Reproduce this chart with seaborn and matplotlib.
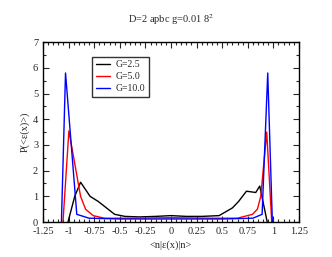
import pandas as pd
import numpy as np
import matplotlib
matplotlib.use('Agg')
import matplotlib.pyplot as plt
import seaborn as sns
from matplotlib.ticker import MultipleLocator, FuncFormatter

sns.set_style('ticks')
plt.rcParams['font.family'] = ['Liberation Serif', 'DejaVu Serif']
plt.rcParams['mathtext.fontset'] = 'stix'

# G=2.5
x_g25 = [-1.006, -0.94, -0.883, -0.79, -0.71, -0.63, -0.55, -0.45, -0.31, -0.15, 0.0, 0.15, 0.3, 0.47,
         0.6, 0.66, 0.737, 0.828, 0.867, 0.94]
y_g25 = [0.0, 1.0, 1.55, 1.0, 0.8, 0.55, 0.3, 0.22, 0.2, 0.22, 0.25, 0.22, 0.22, 0.25,
         0.55, 0.8, 1.2, 1.15, 1.4, 0.0]
# G=5.0
x_g50 = [-1.055, -0.997, -0.883, -0.834, -0.76, -0.65, -0.4, 0.0, 0.4, 0.65, 0.795, 0.844, 0.877, 0.935, 0.984]
y_g50 = [0.0, 3.55, 1.0, 0.5, 0.25, 0.15, 0.15, 0.17, 0.15, 0.15, 0.3, 0.5, 1.0, 3.5, 0.0]
# G=10.0
x_g10 = [-1.07, -1.03, -0.92, -0.8, -0.5, 0.0, 0.5, 0.8, 0.89, 0.945, 0.99]
y_g10 = [0.0, 5.8, 0.3, 0.15, 0.12, 0.12, 0.12, 0.15, 0.3, 5.8, 0.0]

labels = ['G=2.5', 'G=5.0', 'G=10.0']
colors = ['black', 'red', 'blue']

df = pd.concat([
    pd.DataFrame({'x': x_g25, 'y': y_g25, 'G': labels[0]}),
    pd.DataFrame({'x': x_g50, 'y': y_g50, 'G': labels[1]}),
    pd.DataFrame({'x': x_g10, 'y': y_g10, 'G': labels[2]}),
], ignore_index=True)

fig = plt.figure(figsize=(3.32, 2.57), dpi=100)
ax = fig.add_axes([0.1295, 0.136, 0.771, 0.70])
sns.lineplot(data=df, x='x', y='y', hue='G', palette=colors, sort=False,
             estimator=None, linewidth=1.0, ax=ax)

ax.set_xlim(-1.25, 1.25)
ax.set_ylim(0, 7)
ax.xaxis.set_major_locator(MultipleLocator(0.25))
ax.xaxis.set_minor_locator(MultipleLocator(0.05))
ax.yaxis.set_major_locator(MultipleLocator(1))
ax.yaxis.set_minor_locator(MultipleLocator(0.5))
ax.xaxis.set_major_formatter(FuncFormatter(lambda v, p: f'{v:g}'))
ax.tick_params(which='both', direction='in', top=True, right=True, labelsize=7.5, width=0.8)
ax.tick_params(which='major', length=4)
ax.tick_params(which='minor', length=2)
for s in ax.spines.values():
    s.set_linewidth(1.0)
    s.set_color('black')

ax.set_xlabel('<n|ε(x)|n>', fontsize=7.5, labelpad=3)
ax.set_ylabel('P(<ε(x)>)', fontsize=7.5, labelpad=2)
fig.text(0.515, 0.925, 'D=2 apbc g=0.01 8$^2$', ha='center', va='center', fontsize=7.5)

leg = ax.legend(loc='upper left', bbox_to_anchor=(0.19, 0.92), fontsize=7, frameon=True,
                fancybox=False, handlelength=1.5, borderpad=0.4, labelspacing=0.3,
                handletextpad=0.6, borderaxespad=0)
leg.get_frame().set_edgecolor('black')
leg.get_frame().set_linewidth(1.0)
leg.set_title(None)

fig.savefig('out.png', dpi=100)
